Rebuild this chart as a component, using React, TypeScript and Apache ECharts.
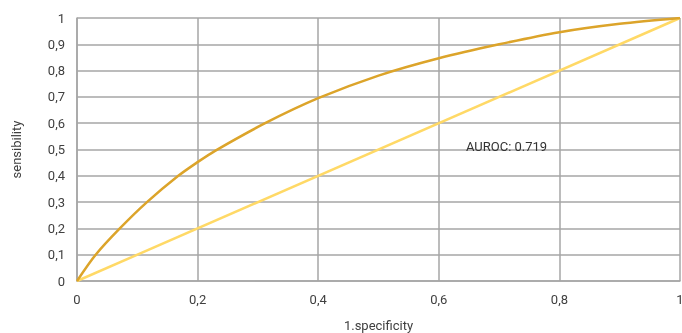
import React, { useEffect, useRef } from "react";
import * as echarts from "echarts";

const rocX = [0, 0.031, 0.071, 0.116, 0.168, 0.2, 0.229, 0.312, 0.4, 0.5, 0.6, 0.7, 0.8, 0.9, 1];
const rocY = [0, 0.1, 0.2, 0.3, 0.4, 0.452, 0.495, 0.6, 0.695, 0.781, 0.847, 0.9, 0.946, 0.978, 1];
const diagX = [0, 1];
const diagY = [0, 1];
const aurocText = "AUROC: 0.719";
const xName = "1.specificity";
const yName = "sensibility";

const fmt = (v: number) => String(Math.round(v * 10) / 10).replace(".", ",");

export default function App() {
  const ref = useRef<HTMLDivElement>(null);
  useEffect(() => {
    if (!ref.current) return;
    const chart = echarts.init(ref.current, undefined, { renderer: "svg" });
    const gridColor = "#a6a6a6";
    const textColor = "#404040";
    chart.setOption({
      animation: false,
      textStyle: { fontFamily: "Roboto" },
      grid: { left: 77, right: 2, top: 18, bottom: 52, containLabel: false, outerBoundsMode: "none" },
      xAxis: {
        type: "value",
        min: 0,
        max: 1,
        interval: 0.2,
        name: xName,
        nameLocation: "middle",
        nameGap: 38,
        nameTextStyle: { color: textColor, fontSize: 13, fontFamily: "Roboto" },
        axisLine: { show: true, lineStyle: { color: gridColor, width: 1.5 } },
        axisTick: { show: false },
        axisLabel: { color: textColor, fontSize: 13, margin: 12, formatter: fmt, fontFamily: "Roboto" },
        splitLine: { show: true, lineStyle: { color: gridColor, width: 1.5 } },
      },
      yAxis: {
        type: "value",
        min: 0,
        max: 1,
        interval: 0.1,
        name: yName,
        nameLocation: "middle",
        nameGap: 54,
        nameRotate: 90,
        nameTextStyle: { color: textColor, fontSize: 13, fontFamily: "Roboto" },
        axisLine: { show: true, lineStyle: { color: gridColor, width: 1.5 } },
        axisTick: { show: false },
        axisLabel: { color: textColor, fontSize: 13, margin: 12, formatter: fmt, fontFamily: "Roboto" },
        splitLine: { show: true, lineStyle: { color: gridColor, width: 1.5 } },
      },
      series: [
        {
          type: "line",
          data: diagX.map((x, i) => [x, diagY[i]]),
          showSymbol: false,
          lineStyle: { color: "#ffd966", width: 2.5 },
          z: 2,
        },
        {
          type: "line",
          data: rocX.map((x, i) => [x, rocY[i]]),
          showSymbol: false,
          smooth: 0.3,
          lineStyle: { color: "#dca42a", width: 2.5 },
          z: 3,
          markPoint: {
            symbol: "circle",
            symbolSize: 0,
            data: [{ coord: [0.645, 0.51] }],
            label: {
              show: true,
              position: "right",
              distance: 0,
              formatter: aurocText,
              color: "#333333",
              fontSize: 13,
              fontFamily: "Roboto",
            },
          },
        },
      ],
    });
    return () => chart.dispose();
  }, []);
  return <div ref={ref} style={{ position: "fixed", left: 0, top: 0, width: 682, height: 333 }} />;
}
